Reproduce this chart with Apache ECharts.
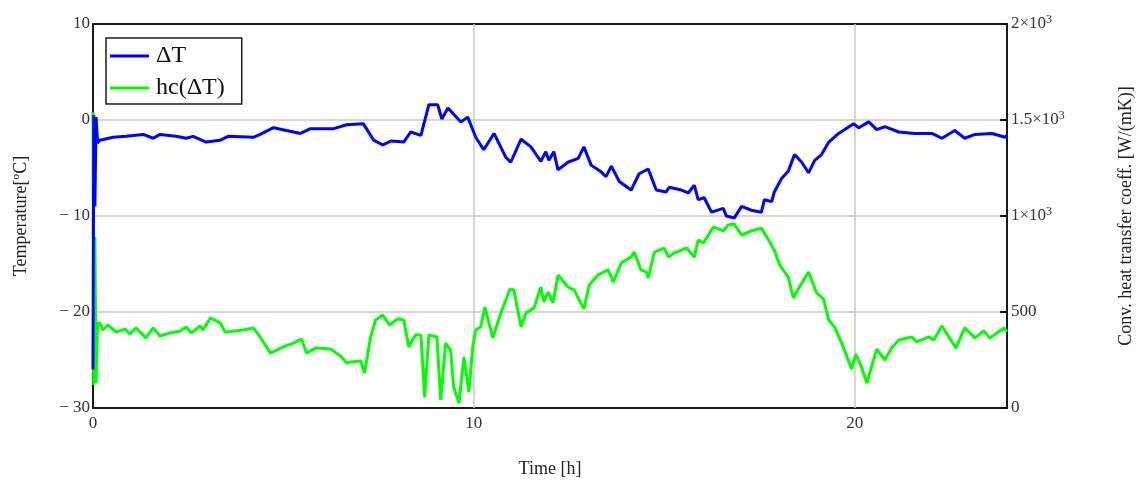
<!DOCTYPE html>
<html>
<head>
<meta charset="utf-8">
<script src="https://cdn.jsdelivr.net/npm/echarts@6/dist/echarts.min.js"></script>
<style>
  html, body { margin: 0; padding: 0; background: #fff; }
  #main { width: 1139px; height: 484px; }
</style>
</head>
<body>
<div id="main"></div>
<script>
// ΔT 曲线 (时间 h, 温度 °C)
const dtTime = [0, 0.02, 0.05, 0.08, 0.12, 0.18, 0.53, 0.87, 1.32, 1.58, 1.76, 2.18, 2.45, 2.63, 2.97, 3.34, 3.55, 4.21, 4.39, 4.74, 5.08, 5.45, 5.71, 6.32, 6.66, 7.1,
  7.37, 7.61, 7.82, 8.16, 8.34, 8.61, 8.82, 9.05, 9.16, 9.32, 9.66, 9.84, 10.05, 10.26, 10.53, 10.84, 10.97, 11.24, 11.5, 11.76, 11.89, 11.97, 12.1, 12.21, 12.47, 12.74, 12.89,
  13.08, 13.34, 13.47, 13.61, 13.82, 14.13, 14.34, 14.58, 14.79, 15.05, 15.13, 15.45, 15.63, 15.79, 15.89, 16.05, 16.24, 16.55, 16.63, 16.84, 17.03, 17.29, 17.55, 17.63,
  17.82, 17.89, 18.08, 18.26, 18.42, 18.61, 18.79, 18.95, 19.13, 19.32, 19.58, 19.97, 20.11, 20.37, 20.58, 20.79, 21.16, 21.58, 22.03, 22.29, 22.63, 22.89, 23.16, 23.61, 23.95, 24];
const dtValue = [-26, 0.5, -9, 0.3, -2.4, -2.1, -1.8, -1.7, -1.5, -1.9, -1.5, -1.7, -1.9, -1.7, -2.3, -2.1, -1.7, -1.8, -1.5, -0.8, -1.1, -1.4, -0.9, -0.9, -0.5, -0.4,
  -2.1, -2.6, -2.2, -2.3, -1.25, -1.6, 1.6, 1.6, 0.1, 1.25, -0.2, 0.3, -1.8, -3.1, -1.4, -3.9, -4.4, -2.0, -2.8, -4.3, -3.3, -4.2, -3.3, -5.2, -4.4, -4.0, -2.8,
  -4.7, -5.4, -5.9, -4.8, -6.4, -7.3, -5.6, -5.1, -7.3, -7.5, -7.0, -7.3, -7.6, -6.8, -8.3, -8.1, -9.6, -9.2, -10.0, -10.2, -9.0, -9.4, -9.6, -8.3,
  -8.5, -7.5, -6.1, -5.3, -3.6, -4.4, -5.5, -4.2, -3.6, -2.3, -1.4, -0.4, -0.8, -0.2, -1.0, -0.7, -1.25, -1.4, -1.4, -1.9, -1.1, -1.9, -1.5, -1.4, -1.8, -1.6];

// hc(ΔT) 曲线 (时间 h, W/(mK))
const hcTime = [0, 0.02, 0.05, 0.08, 0.12, 0.18, 0.26, 0.39, 0.61, 0.84, 0.97, 1.13, 1.39, 1.58, 1.76, 2.03, 2.29, 2.45, 2.58, 2.82, 2.89, 3.08, 3.34, 3.47, 3.95, 4.21, 4.39,
  4.66, 5.0, 5.26, 5.47, 5.61, 5.84, 6.24, 6.5, 6.66, 6.76, 7.03, 7.08, 7.13, 7.29, 7.42, 7.61, 7.79, 8.0, 8.16, 8.29, 8.47, 8.61, 8.71, 8.82, 9.03, 9.13, 9.26, 9.39,
  9.47, 9.61, 9.74, 9.87, 9.97, 10.05, 10.18, 10.29, 10.5, 10.71, 10.95, 11.05, 11.24, 11.37, 11.58, 11.76, 11.84, 11.95, 12.08, 12.21, 12.47, 12.63, 12.89, 13.03,
  13.26, 13.53, 13.66, 13.87, 14.13, 14.21, 14.39, 14.53, 14.58, 14.74, 15.0, 15.11, 15.26, 15.58, 15.79, 15.89, 16.03, 16.29, 16.55, 16.68, 16.84, 17.03, 17.29,
  17.55, 17.74, 17.89, 18.03, 18.26, 18.39, 18.55, 18.79, 19.0, 19.18, 19.32, 19.47, 19.66, 19.92, 20.03, 20.18, 20.32, 20.58, 20.79, 20.97, 21.16, 21.5, 21.63,
  21.95, 22.08, 22.29, 22.66, 22.89, 23.16, 23.39, 23.55, 23.92, 24];
const hcValue = [1540, 120, 890, 130, 440, 443, 406, 432, 396, 411, 385, 417, 365, 417, 375, 391, 401, 422, 391, 427, 406, 469, 443, 396, 406, 417, 370,
  286, 318, 338, 359, 286, 312, 307, 271, 234, 240, 245, 240, 182, 370, 458, 484, 432, 464, 458, 318, 380, 380, 57, 380, 370, 42, 338, 302,
  109, 26, 266, 83, 318, 406, 422, 526, 365, 495, 620, 615, 422, 495, 521, 630, 552, 604, 547, 693, 630, 615, 516, 641,
  693, 719, 656, 755, 786, 812, 719, 708, 677, 812, 833, 786, 807, 833, 786, 875, 859, 943, 922, 953, 958, 901, 922,
  937, 875, 823, 745, 680, 573, 630, 708, 599, 568, 458, 422, 338, 203, 281, 214, 130, 307, 250, 312, 354, 370, 344,
  370, 354, 427, 312, 417, 365, 401, 365, 417, 396];

// 坐标轴刻度文字
const leftTickLabels = { '10': '10', '0': '0', '-10': '\u2212 10', '-20': '\u2212 20', '-30': '\u2212 30' };
const rightTickLabels = {
  '0': '0',
  '500': '500',
  '1000': '{m|1×10}{s|3}',
  '1500': '{m|1.5×10}{s|3}',
  '2000': '{m|2×10}{s|3}'
};
const timeTickLabels = { '0': '0', '10': '10', '20': '20' };

const font = '"Liberation Serif", "Times New Roman", serif';

function zip(xs, ys) {
  return xs.map((x, i) => [x, ys[i]]);
}

const chart = echarts.init(document.getElementById('main'), null, { renderer: 'canvas' });

let option = {
  animation: false,
  backgroundColor: '#fff',
  grid: {
    show: true,
    left: 93,
    right: 132,
    top: 24,
    bottom: 76,
    outerBoundsMode: 'none', // 不要自动收缩绘图区
    containLabel: false,
    borderColor: '#1a1a1a',
    borderWidth: 2,
    backgroundColor: 'transparent'
  },
  legend: {
    left: 106,
    top: 38,
    orient: 'vertical',
    icon: 'rect',
    itemWidth: 39,
    itemHeight: 3,
    itemGap: 8,
    padding: [6, 17, 4, 4],
    borderColor: '#1a1a1a',
    borderWidth: 1.5,
    textStyle: { fontFamily: font, fontSize: 24, color: '#111', padding: [0, 0, 0, 2] },
    data: ['\u0394T', 'hc(\u0394T)']
  },
  xAxis: {
    type: 'value',
    min: 0,
    max: 24,
    interval: 10,
    name: 'Time [h]',
    nameLocation: 'middle',
    nameGap: 52,
    nameTextStyle: { fontFamily: font, fontSize: 18, color: '#222' },
    axisLine: { show: false },
    axisTick: { show: false },
    axisLabel: {
      fontFamily: font, fontSize: 17, color: '#333', margin: 7,
      formatter: (v) => timeTickLabels[String(v)] || ''
    },
    splitLine: { show: true, showMinLine: false, showMaxLine: false, lineStyle: { color: '#c8c8c8', width: 1.5 } }
  },
  yAxis: [{
    type: 'value',
    min: -30,
    max: 10,
    interval: 10,
    name: 'Temperature[ºC]',
    nameLocation: 'middle',
    nameGap: 63,
    nameTextStyle: { fontFamily: font, fontSize: 18, color: '#222' },
    axisLine: { show: false },
    axisTick: { show: false },
    axisLabel: {
      fontFamily: font, fontSize: 17, color: '#333', margin: 3,
      formatter: (v) => leftTickLabels[String(v)] || ''
    },
    splitLine: { show: true, showMinLine: false, showMaxLine: false, lineStyle: { color: '#c8c8c8', width: 1.5 } }
  }, {
    type: 'value',
    position: 'right',
    min: 0,
    max: 2000,
    interval: 500,
    name: 'Conv. heat transfer coeff. [W/(mK)]',
    nameLocation: 'middle',
    nameGap: 110,
    nameRotate: 90,
    nameTextStyle: { fontFamily: font, fontSize: 18, color: '#222' },
    axisLine: { show: false },
    axisTick: { show: true, inside: true, length: 7, lineStyle: { color: '#111', width: 2 } },
    axisLabel: {
      fontFamily: font, fontSize: 17, color: '#333', margin: 4,
      formatter: (v) => rightTickLabels[String(v)] || '',
      rich: {
        m: { fontFamily: font, fontSize: 17, color: '#333' },
        s: { fontFamily: font, fontSize: 12, color: '#333', padding: [0, 0, 9, 0] }
      }
    },
    splitLine: { show: false }
  }],
  series: [{
    name: '\u0394T',
    type: 'line',
    yAxisIndex: 0,
    showSymbol: false,
    symbol: 'none',
    lineStyle: { color: '#0000ff', width: 3 },
    itemStyle: { color: '#0000ff' },
    data: zip(dtTime, dtValue),
    z: 3
  }, {
    name: 'hc(\u0394T)',
    type: 'line',
    yAxisIndex: 1,
    showSymbol: false,
    symbol: 'none',
    lineStyle: { color: '#00ff00', width: 3 },
    itemStyle: { color: '#00ff00' },
    data: zip(hcTime, hcValue),
    z: 2
  }]
};

chart.setOption(option);
</script>
</body>
</html>
